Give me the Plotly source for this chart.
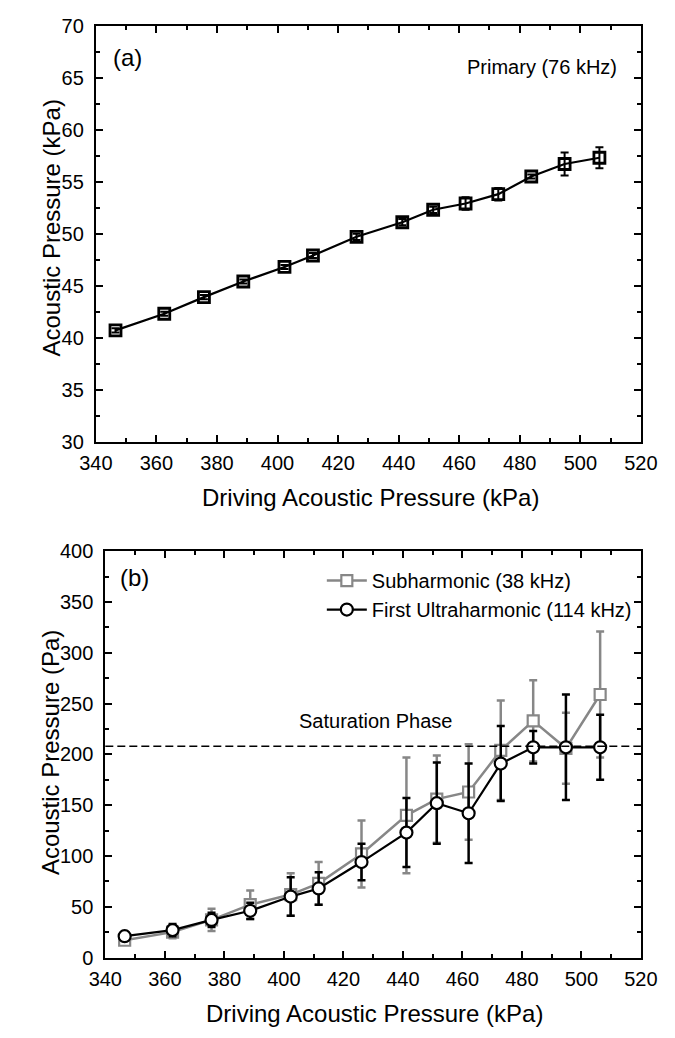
import plotly.graph_objects as go

# ---------------- data ----------------
driving = [346.5, 362.6, 375.7, 388.7, 402.3, 411.7, 426.1, 441.2, 451.4, 462.1, 472.9, 483.8, 494.8, 506.3]

primary = [40.7, 42.3, 43.9, 45.4, 46.8, 47.9, 49.7, 51.1, 52.3, 52.9, 53.8, 55.5, 56.7, 57.3]
primary_err = [0.2, 0.2, 0.2, 0.2, 0.2, 0.25, 0.3, 0.3, 0.3, 0.6, 0.6, 0.2, 1.1, 1.0]

sub = [17, 25, 37, 52, 62, 73, 102, 140, 156, 163, 204, 233, 206, 259]
sub_err = [3, 6, 11, 14, 21, 21, 33, 57, 43, 47, 49, 40, 35, 62]

ultra = [21, 27, 37, 46, 60, 68, 94, 123, 152, 142, 191, 207, 207, 207]
ultra_err = [4, 6, 7, 8, 19, 16, 18, 34, 40, 49, 37, 16, 52, 32]

saturation = 208

W, H = 675, 1038
FONT = "Liberation Sans, Arial, sans-serif"
GRAY = "#878787"

def px_x(p):
    return p / W

def px_y(p):
    return 1 - p / H

fig = go.Figure()

# ---- panel (a) ----
fig.add_trace(go.Scatter(
    x=driving, y=primary, mode="lines+markers", xaxis="x", yaxis="y",
    line=dict(color="black", width=2.2),
    marker=dict(symbol="square-open", size=11, color="black", line=dict(width=2.8)),
    error_y=dict(type="data", array=primary_err, color="black", thickness=2, width=4),
    showlegend=False,
))

# ---- panel (b) ----
fig.add_trace(go.Scatter(
    x=driving, y=sub, mode="lines+markers", xaxis="x2", yaxis="y2",
    name="Subharmonic (38 kHz)",
    line=dict(color=GRAY, width=2.5),
    marker=dict(symbol="square", size=11, color="white", line=dict(color=GRAY, width=2.2)),
    error_y=dict(type="data", array=sub_err, color=GRAY, thickness=2.5, width=4),
))
fig.add_trace(go.Scatter(
    x=driving, y=ultra, mode="lines+markers", xaxis="x2", yaxis="y2",
    name="First Ultraharmonic (114 kHz)",
    line=dict(color="black", width=2.2),
    marker=dict(symbol="circle", size=12, color="white", line=dict(color="black", width=2.2)),
    error_y=dict(type="data", array=ultra_err, color="black", thickness=2.5, width=4),
))

fig.add_shape(type="line", xref="x2 domain", yref="y2", x0=0, x1=1,
              y0=saturation, y1=saturation,
              line=dict(color="black", width=1.5, dash="8px,4px"))

axis_common = dict(
    showline=True, linecolor="black", linewidth=2, mirror="ticks",
    ticks="inside", ticklen=7, tickwidth=2, tickcolor="black",
    showgrid=False, zeroline=False,
    tickfont=dict(family=FONT, size=20, color="black"),
)
minor_common = dict(ticks="inside", ticklen=4, tickwidth=2, tickcolor="black", showgrid=False)

fig.update_layout(
    width=W, height=H,
    margin=dict(l=0, r=0, t=0, b=0),
    paper_bgcolor="white", plot_bgcolor="white",
    font=dict(family=FONT, color="black", size=20),
    xaxis=dict(domain=[px_x(83), px_x(657)], anchor="y", range=[340, 520], dtick=20,
               minor=dict(dtick=10, **minor_common), ticklabelstandoff=2, **axis_common),
    yaxis=dict(domain=[px_y(440), px_y(15)], anchor="x", range=[30, 70], dtick=5,
               minor=dict(dtick=2.5, **minor_common), ticklabelstandoff=6, **axis_common),
    xaxis2=dict(domain=[px_x(93), px_x(657)], anchor="y2", range=[340, 520], dtick=20,
                minor=dict(dtick=10, **minor_common), ticklabelstandoff=2, **axis_common),
    yaxis2=dict(domain=[px_y(967), px_y(552)], anchor="x2", range=[0, 400], dtick=50,
                minor=dict(dtick=25, **minor_common), ticklabelstandoff=6, **axis_common),
    legend=dict(x=px_x(321), y=px_y(562), xanchor="left", yanchor="top",
                bgcolor="rgba(0,0,0,0)", font=dict(family=FONT, size=20, color="black"),
                tracegroupgap=0, itemwidth=40),
)

ann = []
def text(x, y, s, size=20, xanchor="center", angle=0):
    ann.append(dict(x=px_x(x), y=px_y(y), xref="paper", yref="paper", text=s,
                    showarrow=False, xanchor=xanchor, yanchor="middle", textangle=angle,
                    font=dict(family=FONT, size=size, color="black")))

text(372, 497, "Driving Acoustic Pressure (kPa)", size=24)
text(376, 1024, "Driving Acoustic Pressure (kPa)", size=24)
text(36, 222, "Acoustic Pressure (kPa)", size=24, angle=-90)
text(36, 758, "Acoustic Pressure (Pa)", size=24, angle=-90)
text(116, 48, "(a)", size=24)
text(124, 579, "(b)", size=24)
text(634, 57, "Primary (76 kHz)", size=20, xanchor="right")
text(378, 725, "Saturation Phase", size=20)
fig.update_layout(annotations=ann)

fig.write_html("out.html")
